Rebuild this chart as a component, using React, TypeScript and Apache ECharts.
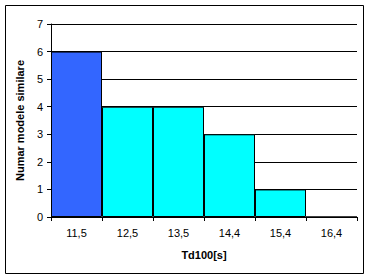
import React, { useEffect, useRef } from "react";
import * as echarts from "echarts";

const categories = ["11,5", "12,5", "13,5", "14,4", "15,4", "16,4"];
const counts = [6, 4, 4, 3, 1, 0];
const xName = "Td100[s]";
const yName = "Numar modele similare";

export default function App() {
  const ref = useRef<HTMLDivElement>(null);
  useEffect(() => {
    document.body.style.margin = "0";
    const chart = echarts.init(ref.current!, null, { renderer: "svg" });
    const font = "Liberation Sans, Arial, sans-serif";
    chart.setOption({
      animation: false,
      backgroundColor: "#ffffff",
      graphic: [
        {
          type: "rect",
          shape: { x: 5.5, y: 5.5, width: 358, height: 268 },
          style: { fill: "none", stroke: "#000", lineWidth: 1 },
          silent: true,
        },
      ],
      grid: { left: 51, top: 24, width: 306, height: 193 },
      xAxis: {
        type: "category",
        data: categories,
        name: xName,
        nameLocation: "middle",
        nameGap: 32,
        nameTextStyle: { fontFamily: font, fontSize: 11, fontWeight: "bold", color: "#000" },
        axisLine: { lineStyle: { color: "#000", width: 1 } },
        axisTick: { show: true, length: 4, lineStyle: { color: "#000" } },
        axisLabel: { fontFamily: font, fontSize: 11, color: "#000", margin: 10 },
        splitLine: { show: false },
      },
      yAxis: {
        type: "value",
        min: 0,
        max: 7,
        interval: 1,
        name: yName,
        nameLocation: "middle",
        nameGap: 19,
        nameTextStyle: { fontFamily: font, fontSize: 11, fontWeight: "bold", color: "#000" },
        axisLine: { show: true, lineStyle: { color: "#000", width: 1 } },
        axisTick: { show: true, length: 4, lineStyle: { color: "#000" } },
        axisLabel: { fontFamily: font, fontSize: 11, color: "#000", margin: 8 },
        splitLine: { show: true, lineStyle: { color: "#000", width: 1 } },
      },
      series: [
        {
          type: "bar",
          barWidth: "100%",
          barCategoryGap: "0%",
          data: counts.map((v, i) => ({
            value: v,
            itemStyle: {
              color: i === 0 ? "#3366ff" : "#00ffff",
              borderColor: "#000",
              borderWidth: 1,
            },
          })),
        },
      ],
    });
    return () => chart.dispose();
  }, []);
  return <div ref={ref} style={{ width: 372, height: 279 }} />;
}
